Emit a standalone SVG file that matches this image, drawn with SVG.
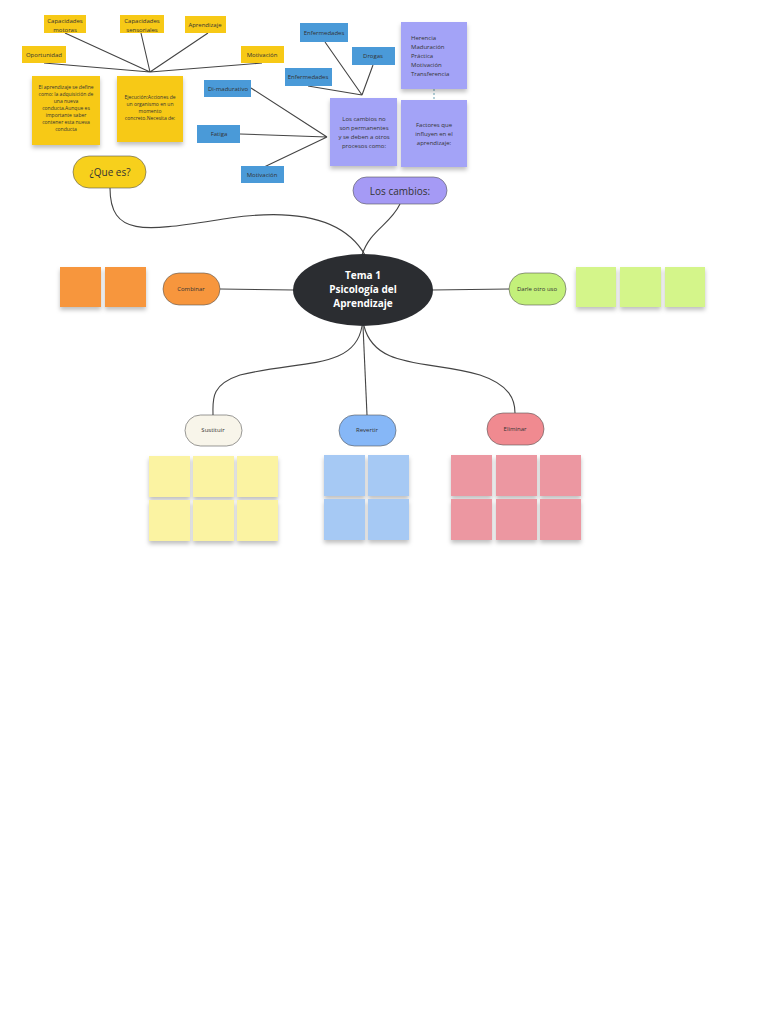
<svg xmlns="http://www.w3.org/2000/svg" width="768" height="1024" viewBox="0 0 768 1024">
<defs>
<filter id="sh" x="-20%" y="-20%" width="140%" height="150%"><feDropShadow dx="0" dy="3" stdDeviation="2" flood-color="#000" flood-opacity="0.25"/></filter>
</defs>
<style>
text{font-family:"Open Sans","Liberation Sans",sans-serif;text-anchor:middle;fill:#333}
.s{font-size:6px}
.xs{font-size:5px}
.yl{fill:#f7c916}
.bl{fill:#4a9ad8}
.pu{fill:#a3a3f7}
.ln{fill:none;stroke:#444;stroke-width:1.1}
.st{filter:url(#sh)}
</style>
<rect width="768" height="1024" fill="#fff"/>
<g id="connectors" class="ln">
<path d="M150 72L65 33M150 72L141 33M150 72L208 33M150 72L44 63M150 72L262 63"/>
<path d="M362 95L325 42M362 95L373 65M362 95L308 86"/>
<path d="M327 137L251 88M327 137L240 134M327 137L262 168"/>
<path d="M434 89L434 100" stroke="#7ab" stroke-dasharray="2 2"/>
<path d="M110 188C110 240 150 230 230 218C300 208 345 220 365 255"/>
<path d="M400 204C390 225 370 230 362 255"/>
<path d="M220 289L294 290M432 290L509 289"/>
<path d="M362 326C355 370 300 360 240 375C210 385 213 400 213 415"/>
<path d="M363 326L367 415"/>
<path d="M364 326C375 370 430 360 480 375C510 385 515 400 515 413"/>
</g>
<g id="top-yellow">
<rect class="yl" x="44" y="15" width="42" height="18"/><text class="s" x="65" y="23">Capacidades</text><text class="s" x="65" y="32">motoras</text>
<rect class="yl" x="120" y="15" width="44" height="18"/><text class="s" x="142" y="23">Capacidades</text><text class="s" x="142" y="32">sensoriales</text>
<rect class="yl" x="185" y="16" width="41" height="17"/><text class="s" x="205" y="27">Aprendizaje</text>
<rect class="yl" x="22" y="46" width="44" height="17"/><text class="s" x="44" y="57">Oportunidad</text>
<rect class="yl" x="241" y="46" width="43" height="17"/><text class="s" x="262" y="57">Motivación</text>
<rect class="yl st" x="32" y="76" width="68" height="69"/>
<text class="xs" x="66" y="89">El aprendizaje se define</text><text class="xs" x="66" y="96">como: la adquisición de</text><text class="xs" x="66" y="103">una nueva</text><text class="xs" x="66" y="110">conducta.Aunque es</text><text class="xs" x="66" y="117">importante saber</text><text class="xs" x="66" y="124">contener esta nueva</text><text class="xs" x="66" y="131">conducta</text>
<rect class="yl st" x="117" y="76" width="66" height="66"/>
<text class="xs" x="150" y="99">Ejecución:Acciones de</text><text class="xs" x="150" y="106">un organismo en un</text><text class="xs" x="150" y="113">momento</text><text class="xs" x="150" y="120">concreto.Necesita de:</text>
</g>
<g id="blue-labels">
<rect class="bl" x="300" y="23" width="48" height="19"/><text class="s" x="324" y="35">Enfermedades</text>
<rect class="bl" x="352" y="47" width="43" height="18"/><text class="s" x="373" y="58">Drogas</text>
<rect class="bl" x="285" y="68" width="47" height="18"/><text class="s" x="308" y="79">Enfermedades</text>
<rect class="bl" x="204" y="80" width="47" height="17"/><text class="s" x="228" y="91">Di-madurativo</text>
<rect class="bl" x="197" y="125" width="43" height="18"/><text class="s" x="219" y="136">Fatiga</text>
<rect class="bl" x="241" y="166" width="43" height="17"/><text class="s" x="262" y="177">Motivación</text>
</g>
<g id="purple">
<rect class="pu st" x="401" y="22" width="66" height="67"/>
<g style="text-anchor:start"><text class="s" x="411" y="40" style="text-anchor:start">Herencia</text><text class="s" x="411" y="49" style="text-anchor:start">Maduración</text><text class="s" x="411" y="58" style="text-anchor:start">Práctica</text><text class="s" x="411" y="67" style="text-anchor:start">Motivación</text><text class="s" x="411" y="76" style="text-anchor:start">Transferencia</text></g>
<rect class="pu st" x="330" y="98" width="67" height="68"/>
<text class="s" x="364" y="121">Los cambios no</text><text class="s" x="364" y="130">son permanentes</text><text class="s" x="364" y="139">y se deben a otros</text><text class="s" x="364" y="148">procesos como:</text>
<rect class="pu st" x="401" y="100" width="66" height="67"/>
<text class="s" x="434" y="127">Factores que</text><text class="s" x="434" y="136">influyen en el</text><text class="s" x="434" y="145">aprendizaje:</text>
</g>
<g id="los-cambios"><rect x="353" y="177" width="94" height="27" rx="13.5" fill="#a59af5" stroke="#555" stroke-width="0.6"/><text x="400" y="195" style="font-size:10px">Los cambios:</text></g>
<g id="que-es"><rect x="73" y="156" width="73" height="32" rx="16" fill="#f7d01c" stroke="#555" stroke-width="0.6"/><text x="110" y="176" style="font-size:10px">¿Que es?</text></g>
<g id="central"><ellipse cx="363" cy="290" rx="70" ry="36" fill="#2b2d31"/><text x="363" y="279" style="font-size:10px;font-weight:bold;fill:#fff">Tema 1</text><text x="363" y="293" style="font-size:10px;font-weight:bold;fill:#fff">Psicología  del</text><text x="363" y="307" style="font-size:10px;font-weight:bold;fill:#fff">Aprendizaje</text></g>
<g id="combinar"><rect x="163" y="273" width="57" height="32" rx="16" fill="#f7963d" stroke="#555" stroke-width="0.6"/><text class="s" x="191" y="291">Combinar</text>
<rect class="st" x="60" y="267" width="41" height="40" fill="#f7963d"/><rect class="st" x="105" y="267" width="41" height="40" fill="#f7963d"/></g>
<g id="darle"><rect x="509" y="273" width="57" height="32" rx="16" fill="#c3f07a" stroke="#555" stroke-width="0.6"/><text class="s" x="537" y="291">Darle otro uso</text>
<rect class="st" x="576" y="267" width="40" height="40" fill="#d4f58a"/><rect class="st" x="620" y="267" width="41" height="40" fill="#d4f58a"/><rect class="st" x="665" y="267" width="40" height="40" fill="#d4f58a"/></g>
<g id="sustituir"><rect x="185" y="415" width="57" height="31" rx="15.5" fill="#f8f5ea" stroke="#555" stroke-width="0.6"/><text class="s" x="213" y="432">Sustituir</text>
<g fill="#fbf3a2" class="st"><rect x="149" y="456" width="41" height="41"/><rect x="193" y="456" width="41" height="41"/><rect x="237" y="456" width="41" height="41"/><rect x="149" y="500" width="41" height="41"/><rect x="193" y="500" width="41" height="41"/><rect x="237" y="500" width="41" height="41"/></g></g>
<g id="revertir"><rect x="339" y="415" width="57" height="31" rx="15.5" fill="#86b7f7" stroke="#555" stroke-width="0.6"/><text class="s" x="367" y="432">Revertir</text>
<g fill="#a6c9f4" class="st"><rect x="324" y="455" width="41" height="41"/><rect x="368" y="455" width="41" height="41"/><rect x="324" y="499" width="41" height="41"/><rect x="368" y="499" width="41" height="41"/></g></g>
<g id="eliminar"><rect x="487" y="413" width="57" height="32" rx="16" fill="#f08a90" stroke="#555" stroke-width="0.6"/><text class="s" x="515" y="431">Eliminar</text>
<g fill="#ec97a1" class="st"><rect x="451" y="455" width="41" height="41"/><rect x="496" y="455" width="41" height="41"/><rect x="540" y="455" width="41" height="41"/><rect x="451" y="499" width="41" height="41"/><rect x="496" y="499" width="41" height="41"/><rect x="540" y="499" width="41" height="41"/></g></g>
</svg>
